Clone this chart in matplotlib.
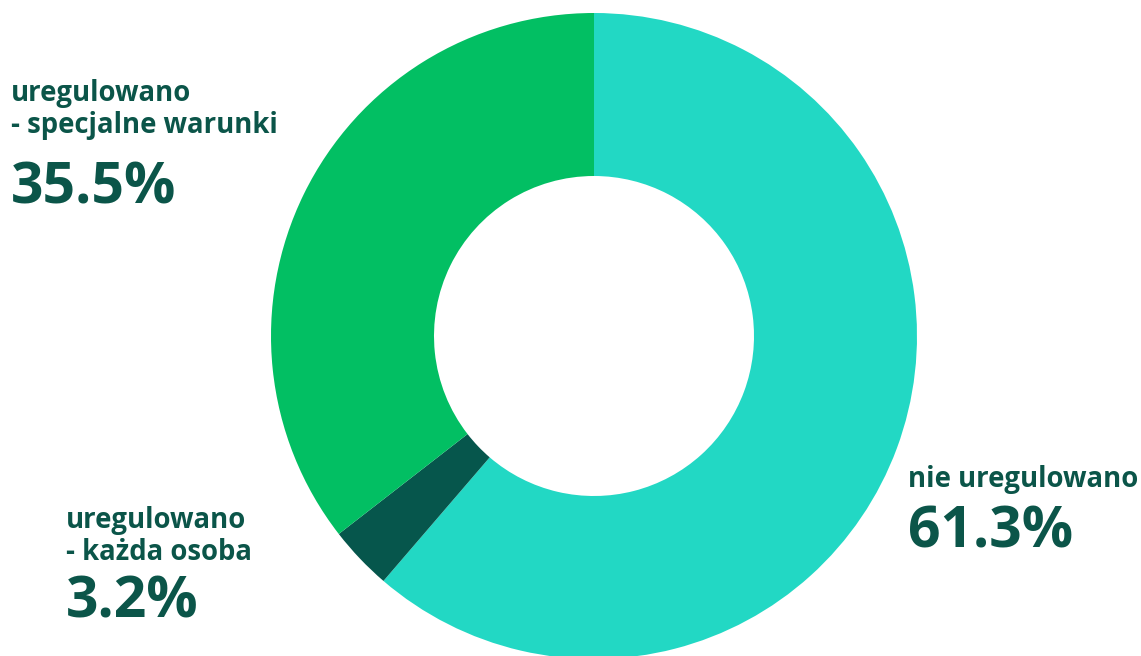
import matplotlib
matplotlib.use("Agg")
import matplotlib.pyplot as plt

categories = ["nie uregulowano", "uregulowano\n- każda osoba", "uregulowano\n- specjalne warunki"]
values = [61.3, 3.2, 35.5]
value_labels = ["61.3%", "3.2%", "35.5%"]
colors = ["#22D8C4", "#06564C", "#02BF63"]
text_color = "#0B5549"

W, H = 1141, 656
fig = plt.figure(figsize=(W / 100, H / 100), dpi=100)
ax = fig.add_axes([0, 0, 1, 1])

cx, cy, r = 594, H - 336, 323
ax.pie(values, colors=colors, startangle=90, counterclock=False,
       center=(cx, cy), radius=r, frame=True,
       wedgeprops=dict(width=163, linewidth=0))
ax.set_xlim(0, W)
ax.set_ylim(0, H)
ax.set_aspect("equal")
ax.axis("off")

fam = ["Open Sans", "DejaVu Sans"]
small = 19.8
big = 41
# label positions (x, first-line baseline, value baseline)
pos = {0: (908, 487, 548), 1: (66, 528, 617), 2: (11, 101, 203)}
for i, (x, b1, b2) in pos.items():
    lines = categories[i].split("\n")
    for j, ln in enumerate(lines):
        ax.text(x, H - (b1 + 32 * j), ln, fontsize=small, fontweight="bold",
                color=text_color, family=fam, va="baseline", ha="left")
    ax.text(x, H - b2, value_labels[i], fontsize=big, fontweight="bold",
            color=text_color, family=fam, va="baseline", ha="left")

fig.savefig("out.png", dpi=100)
